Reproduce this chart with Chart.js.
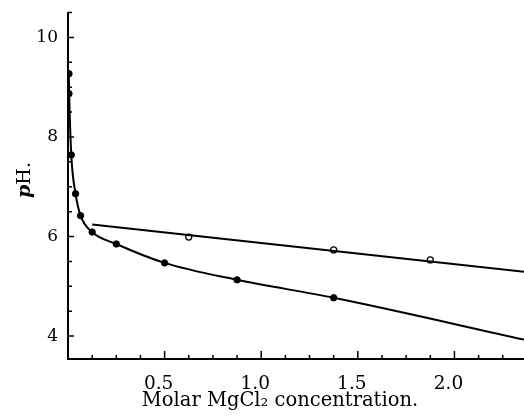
<!DOCTYPE html>
<html>
<head>
<meta charset="utf-8">
<script src="https://cdn.jsdelivr.net/npm/chart.js@4.4.0/dist/chart.umd.min.js"></script>
<style>
  html, body { margin: 0; padding: 0; background: #fff; }
  canvas { display: block; }
</style>
</head>
<body>
<canvas id="myChart" width="524" height="417"></canvas>
<script>
// measured points, filled circles (lower curve)
const filledX = [0.005, 0.005, 0.017, 0.039, 0.065, 0.125, 0.25, 0.5, 0.875, 1.375];
const filledPH = [9.27, 8.87, 7.64, 6.86, 6.42, 6.09, 5.85, 5.47, 5.13, 4.77];

// open circles (upper straight line)
const openX = [0.625, 1.375, 1.875];
const openPH = [5.99, 5.73, 5.53];

// the drawn lines
const lowerCurveX = [0.004, 0.006, 0.017, 0.039, 0.065, 0.125, 0.25, 0.5, 0.875, 1.375, 2.36];
const lowerCurvePH = [9.27, 8.87, 7.64, 6.86, 6.42, 6.09, 5.85, 5.47, 5.13, 4.77, 3.93];
const upperLineX = [0.125, 2.36];
const upperLinePH = [6.24, 5.29];

// axis ticks
const xTicks = [0.5, 1.0, 1.5, 2.0];
const xTickLabels = ['0.5', '1.0', '1.5', '2.0'];
const xMinorTicks = [0.125, 0.25, 0.375, 0.625, 0.75, 0.875, 1.125, 1.25, 1.375, 1.625, 1.75, 1.875, 2.125, 2.25];
const yTicks = [4, 6, 8, 10];
const yTickLabels = ['4', '6', '8', '10'];
const yMinorTicks = [4.5, 5, 5.5, 6.5, 7, 7.5, 8.5, 9, 9.5, 10.5];

const xTitle = 'Molar MgCl₂ concentration.';

const toXY = (xs, ys) => xs.map((x, i) => ({ x: x, y: ys[i] }));

const serif = 'DejaVu Serif';

// no extra room for labels, the plot fills the canvas
const noPad = s => { s.paddingTop = 0; s.paddingBottom = 0; s.paddingLeft = 0; s.paddingRight = 0; };

// tick marks pointing into the plot + axis titles
const axisDecor = {
  id: 'axisDecor',
  afterDraw(chart) {
    const ctx = chart.ctx;
    const xs = chart.scales.x, ys = chart.scales.y;
    const area = chart.chartArea;
    ctx.save();
    ctx.strokeStyle = '#000';
    ctx.lineWidth = 1.5;
    ctx.beginPath();
    xTicks.forEach(v => {
      const px = xs.getPixelForValue(v);
      ctx.moveTo(px, area.bottom); ctx.lineTo(px, area.bottom - 8);
    });
    xMinorTicks.forEach(v => {
      const px = xs.getPixelForValue(v);
      ctx.moveTo(px, area.bottom); ctx.lineTo(px, area.bottom - 4);
    });
    yTicks.forEach(v => {
      const py = ys.getPixelForValue(v);
      ctx.moveTo(area.left, py); ctx.lineTo(area.left + 6, py);
    });
    yMinorTicks.forEach(v => {
      const py = ys.getPixelForValue(v);
      ctx.moveTo(area.left, py); ctx.lineTo(area.left + 4, py);
    });
    ctx.stroke();

    ctx.fillStyle = '#000';
    ctx.textBaseline = 'middle';

    // x title (sits left of the cropped axis centre)
    ctx.textAlign = 'center';
    ctx.font = '19.5px "' + serif + '"';
    ctx.fillText(xTitle, 280, 401);

    // y title, italic p
    ctx.textAlign = 'left';
    ctx.translate(25, 180);
    ctx.rotate(-Math.PI / 2);
    const fItal = 'italic bold 19px "' + serif + '"';
    const fReg = '19px "' + serif + '"';
    ctx.font = fItal;
    const wp = ctx.measureText('p').width;
    ctx.font = fReg;
    const wh = ctx.measureText('H.').width;
    let x0 = -(wp + wh) / 2;
    ctx.font = fItal;
    ctx.fillText('p', x0, 0);
    ctx.font = fReg;
    ctx.fillText('H.', x0 + wp, 0);
    ctx.restore();
  }
};

new Chart(document.getElementById('myChart'), {
  type: 'scatter',
  data: {
    datasets: [
      {
        data: toXY(upperLineX, upperLinePH),
        showLine: true,
        borderColor: '#000',
        borderWidth: 2,
        pointRadius: 0,
        tension: 0
      },
      {
        data: toXY(lowerCurveX, lowerCurvePH),
        showLine: true,
        borderColor: '#000',
        borderWidth: 2,
        pointRadius: 0,
        cubicInterpolationMode: 'monotone'
      },
      {
        data: toXY(filledX, filledPH),
        pointRadius: 3.2,
        pointBackgroundColor: '#000',
        pointBorderColor: '#000',
        pointBorderWidth: 1
      },
      {
        data: toXY(openX, openPH),
        pointRadius: 3,
        pointBackgroundColor: '#fff',
        pointBorderColor: '#000',
        pointBorderWidth: 1.3
      }
    ]
  },
  options: {
    responsive: false,
    animation: false,
    layout: { autoPadding: false, padding: { top: 13, right: 0, left: 0, bottom: 0 } },
    plugins: { legend: { display: false }, tooltip: { enabled: false } },
    scales: {
      x: {
        type: 'linear',
        min: 0,
        max: 2.36,
        grid: { display: false, drawTicks: false },
        border: { display: true, color: '#000', width: 2 },
        afterBuildTicks: s => { s.ticks = xTicks.map(v => ({ value: v })); },
        afterFit: s => { s.height = 58; noPad(s); },
        ticks: {
          color: '#000',
          font: { family: serif, size: 18.5 },
          padding: 14,
          labelOffset: -6,
          maxRotation: 0,
          autoSkip: false,
          callback: (v, i) => xTickLabels[i]
        }
      },
      y: {
        type: 'linear',
        min: 3.54,
        max: 10.49,
        grid: { display: false, drawTicks: false },
        border: { display: true, color: '#000', width: 2 },
        afterBuildTicks: s => { s.ticks = yTicks.map(v => ({ value: v })); },
        afterFit: s => { s.width = 68; noPad(s); },
        ticks: {
          color: '#000',
          font: { family: serif, size: 17 },
          padding: 10,
          autoSkip: false,
          callback: (v, i) => yTickLabels[i]
        }
      }
    }
  },
  plugins: [axisDecor]
});
</script>
</body>
</html>
